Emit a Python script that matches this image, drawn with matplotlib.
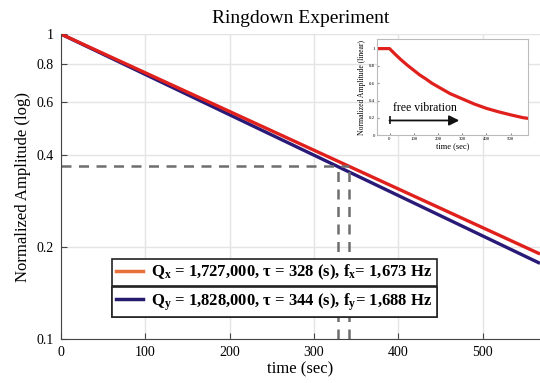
import numpy as np
import matplotlib
matplotlib.use("Agg")
import matplotlib.pyplot as plt
from matplotlib.lines import Line2D

plt.rcParams.update({
    "font.family": "Liberation Serif",
    "mathtext.fontset": "custom",
    "mathtext.rm": "Liberation Serif",
    "mathtext.it": "Liberation Serif:italic",
    "mathtext.bf": "Liberation Serif:bold",
    "xtick.direction": "in",
    "ytick.direction": "in",
})

# ---- data -----------------------------------------------------------------
# straight lines on the log axis, so the end points are enough
t_end = [0, 568]
amp_x = [1.0, 0.190]      # red
amp_y = [1.0, 0.177]      # navy
one_over_e = 0.368
tau_marks = [328, 342]

# inset (linear) ringdown
inset_t = [-52, 0, 25, 50, 75, 100, 125, 150, 175, 200, 250, 300, 350, 400,
           450, 500, 550, 570]
inset_a = [1.0, 1.0, 0.93, 0.865, 0.805, 0.75, 0.695, 0.65, 0.60, 0.56,
           0.48, 0.42, 0.36, 0.31, 0.27, 0.235, 0.203, 0.195]

legend_x = r"$\mathbf{Q_x}$ = 1,727,000, τ = 328 (s), $\mathbf{f_x}$= 1,673 Hz"
legend_y = r"$\mathbf{Q_y}$ = 1,828,000, τ = 344 (s), $\mathbf{f_y}$= 1,688 Hz"

RED, NAVY = "#e0201c", "#2a1a78"
LEG_ORANGE, LEG_NAVY = "#e8703a", "#241a6e"
DASH = "#6e6e6e"

# ---- main axes -------------------------------------------------------------
fig = plt.figure(figsize=(5.40, 3.83), dpi=100)
ax = fig.add_axes([0.113, 0.115, 0.887, 0.796])

ax.plot(t_end, amp_y, color=NAVY, lw=2.4, solid_capstyle="butt")
ax.plot(t_end, amp_x, color=RED, lw=2.4, solid_capstyle="butt")

ax.plot([0, tau_marks[1]], [one_over_e, one_over_e], color=DASH, lw=1.8, ls=(0, (4, 3)))
for tm in tau_marks:
    ax.plot([tm, tm], [0.1, one_over_e], color=DASH, lw=1.8, ls=(0, (4, 3)))

ax.set_yscale("log")
ax.set_xlim(0, 568)
ax.set_ylim(0.1, 1)
ax.set_xticks([0, 100, 200, 300, 400, 500])
ax.set_yticks([0.1, 0.2, 0.4, 0.6, 0.8, 1])
ax.set_yticklabels(["0.1", "0.2", "0.4", "0.6", "0.8", "1"])
ax.minorticks_off()
ax.tick_params(labelsize=10, length=4, color="#444444", pad=5)
ax.grid(True, color="#e4e4e4", lw=1)
ax.set_axisbelow(True)
for s in ["top", "right"]:
    ax.spines[s].set_visible(False)
for s in ["left", "bottom"]:
    ax.spines[s].set_color("#444444")
ax.set_xlabel("time (sec)", fontsize=12, labelpad=2)
ax.set_ylabel("Normalized Amplitude (log)", fontsize=12)
ax.set_title("Ringdown Experiment", fontsize=14, pad=8)

# two stacked legend boxes
for txt, col, y0 in [(legend_x, LEG_ORANGE, 0.218), (legend_y, LEG_NAVY, 0.122)]:
    lg = ax.legend([Line2D([], [], color=col, lw=2.5)], [txt],
                   loc="center left", bbox_to_anchor=(0.107, y0),
                   prop={"weight": "bold", "size": 12}, fancybox=False,
                   framealpha=1, edgecolor="#222222", handlelength=1.6,
                   handletextpad=0.5, borderpad=0.25, borderaxespad=0)
    lg.get_frame().set_linewidth(1.2)
    ax.add_artist(lg)

# ---- inset -----------------------------------------------------------------
ins = fig.add_axes([0.698, 0.647, 0.279, 0.251])
ins.plot(inset_t, inset_a, color=RED, lw=2.3)
ins.set_xlim(-52, 570)
ins.set_ylim(0, 1.11)
ins.set_xticks([0, 100, 200, 300, 400, 500])
ins.set_yticks([0, 0.2, 0.4, 0.6, 0.8, 1])
ins.set_yticklabels(["0", "0.2", "0.4", "0.6", "0.8", "1"])
ins.tick_params(labelsize=3.5, length=1.5, pad=1.5, color="#888888")
for s in ins.spines.values():
    s.set_color("#bbbbbb")
ins.set_xlabel("time (sec)", fontsize=6, labelpad=1)
ins.set_ylabel("Normalized Amplitude (linear)", fontsize=5.5, labelpad=2)
ins.annotate("", xy=(288, 0.17), xytext=(0, 0.17),
             arrowprops=dict(arrowstyle="-|>,head_length=0.6,head_width=0.3",
                             color="#111111", lw=1.3, shrinkA=0, shrinkB=0))
ins.plot([0], [0.17], marker="|", ms=6, mew=1.2, color="#111111")
ins.text(148, 0.24, "free vibration", fontsize=8.5, ha="center", va="bottom")

fig.savefig("out.png", dpi=100)
